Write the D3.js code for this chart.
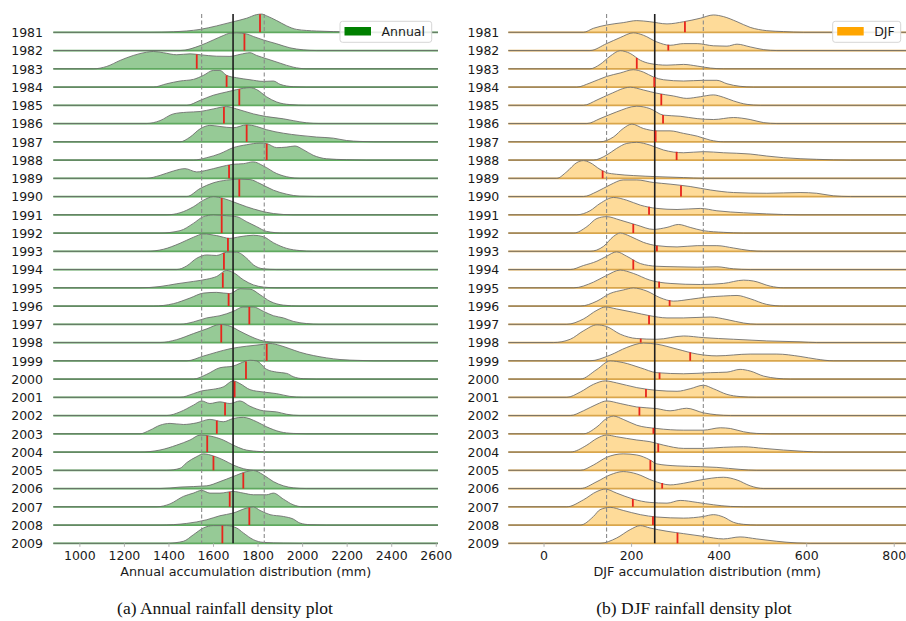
<!DOCTYPE html>
<html>
<head>
<meta charset="utf-8">
<script src="https://cdn.jsdelivr.net/npm/d3@7"></script>
<style>
  body { margin: 0; background: #fff; }
  svg { font-family: "DejaVu Sans", sans-serif; }
</style>
</head>
<body>
<div id="chart"></div>
<script>
// rainfall density ridges, annual (left) and DJF (right)
const years = [1981, 1982, 1983, 1984, 1985, 1986, 1987, 1988, 1989, 1990,
  1991, 1992, 1993, 1994, 1995, 1996, 1997, 1998, 1999, 2000,
  2001, 2002, 2003, 2004, 2005, 2006, 2007, 2008, 2009];

const annualTicks = [1000, 1200, 1400, 1600, 1800, 2000, 2200, 2400, 2600];
const djfTicks = [0, 200, 400, 600, 800];

// [lower dashed, mean, upper dashed]
const annualRef = [1549, 1690, 1830];
const djfRef = [144, 254, 365];

// red marks, one per year
const annualMarks = [1811, 1741, 1527, 1661, 1718, 1649, 1751, 1841, 1672, 1718,
  1639, 1639, 1667, 1649, 1644, 1670, 1763, 1637, 1841, 1748,
  1697, 1654, 1617, 1574, 1602, 1736, 1675, 1763, 1642];
const djfMarks = [323, 285, 213, 253, 269, 273, 256, 304, 135, 314,
  241, 205, 259, 205, 264, 288, 241, 222, 335, 265,
  234, 219, 251, 262, 244, 271, 204, 250, 306];

// density: [mm, relative height]
const annualDensity = [
  [[1317,0],[1422,.03],[1542,.16],[1616,.35],[1691,.58],[1751,.77],[1796,.97],[1818,1],[1841,.9],[1886,.64],[1931,.35],[1975,.16],[2065,.07],[2215,.02],[2290,0]],
  [[1452,0],[1542,.27],[1601,.58],[1646,.82],[1676,.95],[1706,.97],[1751,.91],[1781,.77],[1826,.58],[1886,.37],[1945,.15],[2005,.04],[2065,0]],
  [[1063,0],[1123,.13],[1183,.46],[1242,.73],[1302,.91],[1332,.95],[1377,.88],[1437,.77],[1497,.82],[1542,.77],[1616,.69],[1676,.68],[1721,.79],[1766,.88],[1796,.73],[1841,.55],[1901,.31],[1960,.09],[2020,0]],
  [[1332,0],[1392,.18],[1452,.33],[1512,.42],[1557,.64],[1601,.91],[1631,.91],[1661,.64],[1706,.51],[1766,.4],[1826,.31],[1871,.33],[1901,.15],[1960,.02],[2020,0]],
  [[1482,0],[1542,.27],[1601,.55],[1661,.73],[1706,.86],[1766,.97],[1796,.86],[1841,.46],[1886,.18],[1945,.04],[2020,0]],
  [[1302,0],[1362,.16],[1422,.53],[1482,.62],[1542,.66],[1601,.8],[1661,.93],[1706,.8],[1781,.53],[1841,.38],[1916,.26],[1960,.16],[2020,.04],[2080,0]],
  [[1452,0],[1497,.26],[1542,.71],[1586,.9],[1631,.84],[1691,.77],[1751,.93],[1796,.84],[1841,.66],[1916,.47],[1990,.35],[2065,.26],[2140,.2],[2200,.07],[2260,.02],[2320,0]],
  [[1512,0],[1572,.13],[1631,.35],[1691,.68],[1751,.84],[1811,.93],[1841,.9],[1886,.68],[1931,.71],[1968,.77],[2005,.57],[2050,.26],[2110,.07],[2200,.02],[2290,0]],
  [[1302,0],[1362,.16],[1422,.4],[1474,.53],[1527,.35],[1572,.44],[1631,.62],[1691,.77],[1736,.8],[1781,.9],[1826,.68],[1886,.26],[1945,.05],[1990,0]],
  [[1482,0],[1542,.44],[1601,.75],[1661,.9],[1721,.95],[1766,.93],[1811,.71],[1871,.35],[1931,.13],[1990,.02],[2065,0]],
  [[1392,0],[1452,.11],[1512,.44],[1557,.8],[1601,.99],[1646,.9],[1691,.71],[1751,.44],[1811,.22],[1871,.07],[1960,0]],
  [[1362,0],[1452,.13],[1512,.53],[1557,.9],[1601,.99],[1661,.95],[1706,.9],[1751,.62],[1796,.35],[1841,.09],[1916,0]],
  [[1302,0],[1377,.11],[1452,.44],[1512,.77],[1557,.95],[1616,.86],[1676,.71],[1721,.8],[1781,.88],[1826,.8],[1871,.47],[1931,.16],[1990,.04],[2050,0]],
  [[1437,0],[1482,.2],[1527,.62],[1572,.8],[1616,.77],[1661,.95],[1706,.95],[1751,.62],[1781,.26],[1826,.04],[1886,0]],
  [[1272,0],[1362,.07],[1437,.22],[1512,.35],[1572,.47],[1616,.62],[1661,.95],[1691,.84],[1736,.44],[1781,.16],[1826,.04],[1886,0]],
  [[1332,0],[1422,.13],[1497,.44],[1557,.71],[1616,.75],[1676,.68],[1721,.95],[1766,.93],[1811,.62],[1856,.26],[1916,.05],[1990,0]],
  [[1452,0],[1512,.13],[1572,.35],[1631,.47],[1691,.71],[1736,.95],[1781,.95],[1826,.71],[1871,.47],[1916,.35],[1960,.16],[2020,.04],[2080,0]],
  [[1362,0],[1437,.16],[1512,.49],[1572,.75],[1631,.99],[1676,.9],[1721,.62],[1766,.35],[1811,.13],[1871,.02],[1931,0]],
  [[1482,0],[1557,.26],[1616,.47],[1676,.66],[1751,.8],[1826,.9],[1856,.95],[1901,.84],[1945,.66],[1990,.47],[2050,.29],[2110,.16],[2170,.07],[2260,.02],[2320,0]],
  [[1512,0],[1572,.26],[1631,.62],[1691,.71],[1721,.86],[1766,1.03],[1796,.99],[1841,.53],[1886,.38],[1931,.31],[1960,.13],[2005,.02],[2065,0]],
  [[1452,0],[1512,.2],[1549,.35],[1601,.44],[1646,.57],[1691,.9],[1721,.75],[1766,.42],[1826,.29],[1886,.2],[1945,.05],[2005,0]],
  [[1392,0],[1452,.2],[1512,.57],[1549,.8],[1586,.66],[1631,.75],[1676,.66],[1721,.8],[1766,.51],[1826,.26],[1886,.2],[1931,.07],[1990,0]],
  [[1272,0],[1317,.2],[1362,.47],[1407,.57],[1467,.51],[1527,.6],[1586,.79],[1646,.66],[1691,.84],[1736,.9],[1796,.66],[1841,.38],[1901,.11],[1960,.02],[2020,0]],
  [[1272,0],[1362,.11],[1437,.38],[1497,.66],[1542,.93],[1586,.88],[1646,.66],[1691,.38],[1736,.15],[1796,.04],[1871,0]],
  [[1392,0],[1452,.11],[1482,.42],[1527,.75],[1557,.9],[1601,.79],[1646,.57],[1691,.29],[1736,.09],[1796,0]],
  [[1362,0],[1452,.08],[1572,.15],[1631,.38],[1691,.66],[1751,.93],[1781,.99],[1826,.75],[1871,.38],[1916,.15],[1960,.04],[2020,0]],
  [[1347,0],[1407,.16],[1467,.57],[1512,.75],[1549,.9],[1586,.75],[1631,.75],[1691,.84],[1736,.75],[1781,.66],[1841,.66],[1871,.75],[1916,.42],[1960,.11],[2005,0]],
  [[1362,0],[1482,.09],[1572,.29],[1631,.51],[1691,.66],[1751,.93],[1781,.99],[1811,.8],[1856,.57],[1916,.47],[1960,.33],[1990,.11],[2035,.02],[2110,0]],
  [[1392,0],[1467,.11],[1512,.47],[1557,.84],[1601,.97],[1661,.97],[1706,.84],[1736,.57],[1781,.2],[1826,.05],[1916,.01],[1990,0]]
];

const djfDensity = [
  [[91,0],[114,.22],[144,.4],[182,.53],[213,.64],[243,.58],[282,.46],[320,.58],[358,.77],[388,.95],[411,.86],[442,.58],[472,.27],[510,.09],[548,.04],[594,0]],
  [[106,0],[144,.38],[175,.71],[205,.97],[228,.84],[259,.47],[289,.29],[320,.38],[351,.38],[388,.26],[419,.24],[442,.35],[472,.2],[503,.05],[533,0]],
  [[106,0],[129,.24],[152,.69],[175,.99],[198,.84],[221,.47],[243,.29],[282,.2],[320,.24],[351,.15],[381,.04],[411,0]],
  [[76,0],[106,.22],[144,.58],[175,.77],[205,.95],[228,.82],[251,.55],[274,.4],[320,.33],[365,.37],[396,.37],[419,.18],[449,.04],[480,0]],
  [[91,0],[122,.29],[152,.62],[198,.99],[228,.84],[259,.66],[297,.51],[327,.38],[358,.47],[388,.57],[411,.44],[434,.24],[465,.05],[495,0]],
  [[99,0],[129,.27],[167,.64],[213,.95],[243,.82],[274,.46],[312,.4],[351,.27],[388,.22],[434,.33],[472,.22],[503,.05],[533,0]],
  [[129,0],[160,.27],[182,.73],[202,.97],[228,.73],[259,.6],[289,.6],[320,.46],[351,.31],[381,.09],[411,0]],
  [[114,0],[144,.27],[167,.64],[190,.91],[213,.97],[243,.82],[274,.55],[320,.4],[365,.46],[411,.4],[472,.33],[510,.22],[548,.13],[624,.04],[701,0]],
  [[30,0],[53,.36],[76,.86],[91,.97],[106,.86],[129,.49],[144,.31],[167,.22],[205,.15],[259,.09],[320,.04],[365,0]],
  [[91,0],[122,.27],[152,.64],[182,.91],[213,.91],[251,.77],[289,.68],[335,.55],[381,.36],[434,.22],[510,.18],[586,.22],[624,.18],[662,.04],[701,0]],
  [[76,0],[106,.22],[129,.62],[160,.95],[190,.8],[221,.53],[259,.35],[305,.29],[358,.35],[396,.22],[457,.11],[510,.05],[586,0]],
  [[69,0],[99,.35],[122,.8],[144,.9],[175,.71],[213,.44],[251,.2],[282,.31],[308,.47],[335,.31],[365,.13],[411,.04],[457,0]],
  [[106,0],[137,.27],[160,.82],[175,1],[198,.82],[228,.49],[259,.31],[305,.24],[351,.31],[396,.31],[434,.18],[472,.04],[503,0]],
  [[61,0],[91,.22],[122,.46],[144,.73],[167,.97],[190,.73],[221,.33],[259,.18],[305,.15],[351,.13],[396,.15],[434,.04],[472,0]],
  [[69,0],[114,.31],[144,.68],[175,.97],[205,.79],[243,.42],[289,.24],[358,.18],[411,.24],[457,.42],[480,.37],[518,.09],[548,0]],
  [[84,0],[122,.27],[152,.69],[182,.88],[205,.99],[236,.82],[266,.46],[297,.27],[335,.37],[373,.49],[411,.55],[442,.58],[472,.4],[510,.09],[548,0]],
  [[53,0],[91,.29],[122,.77],[141,.95],[167,.84],[205,.66],[243,.47],[282,.35],[320,.35],[381,.4],[419,.26],[457,.07],[487,0]],
  [[23,0],[61,.18],[91,.64],[122,.97],[144,.88],[175,.46],[213,.22],[259,.18],[320,.36],[365,.27],[434,.18],[510,.09],[586,.04],[624,0]],
  [[106,0],[152,.31],[190,.73],[228,.97],[259,.91],[305,.64],[351,.37],[396,.27],[472,.37],[533,.37],[586,.24],[624,.09],[662,0]],
  [[84,0],[122,.53],[152,.99],[182,.9],[221,.62],[259,.35],[320,.29],[381,.35],[419,.38],[449,.53],[472,.44],[503,.16],[533,.04],[564,0]],
  [[53,0],[84,.29],[114,.71],[141,.9],[167,.79],[213,.53],[259,.38],[305,.33],[335,.47],[365,.66],[388,.47],[419,.16],[449,.04],[487,0]],
  [[61,0],[91,.26],[122,.62],[144,.8],[175,.66],[213,.47],[259,.38],[289,.26],[327,.4],[365,.15],[396,.04],[427,0]],
  [[91,0],[122,.38],[144,.84],[160,.97],[182,.79],[213,.47],[259,.29],[320,.2],[365,.2],[404,.33],[427,.29],[457,.11],[487,.02],[518,0]],
  [[61,0],[99,.38],[122,.75],[144,.93],[167,.84],[213,.66],[243,.57],[274,.38],[320,.2],[365,.2],[411,.26],[457,.29],[503,.2],[548,.11],[594,.04],[640,0]],
  [[84,0],[114,.29],[144,.71],[182,.9],[213,.84],[243,.57],[259,.35],[305,.24],[358,.2],[396,.16],[449,.05],[487,0]],
  [[84,0],[122,.38],[152,.75],[182,.93],[213,.8],[251,.42],[289,.2],[320,.29],[358,.47],[411,.62],[442,.47],[472,.15],[503,0]],
  [[53,0],[91,.38],[122,.84],[141,.97],[167,.75],[205,.42],[243,.24],[282,.2],[312,.35],[351,.24],[388,.11],[427,.02],[457,0]],
  [[84,0],[114,.47],[129,.84],[152,.97],[182,.8],[221,.57],[259,.44],[320,.38],[365,.47],[388,.57],[411,.44],[434,.15],[457,.04],[487,0]],
  [[129,0],[167,.29],[198,.75],[221,.97],[243,.84],[282,.66],[320,.53],[365,.38],[411,.24],[449,.35],[487,.24],[533,.11],[579,.02],[609,0]]
];

const W = 906, H = 621;
const firstRow = 32.3, lastRow = 543.3, rowH = 18.25;

const svg = d3.select("#chart")
  .append("svg")
  .attr("width", W)
  .attr("height", H);

const rowY = d3.scalePoint().domain(years).range([firstRow, lastRow]);
const hY = d3.scaleLinear().domain([0, 1]).range([0, -rowH]);

// height of a curve at value v (straight line between read points)
function heightAt(pts, v) {
  for (let k = 1; k < pts.length; k++) {
    if (v <= pts[k][0]) {
      const a = pts[k - 1], b = pts[k];
      const t = (v - a[0]) / (b[0] - a[0]);
      return a[1] + t * (b[1] - a[1]);
    }
  }
  return 0;
}

function drawPanel(p) {
  const x = d3.scaleLinear().domain(p.domain).range(p.range);
  const g = svg.append("g");

  const area = d3.area()
    .x(d => x(d[0]))
    .y0(0)
    .y1(d => hY(d[1]))
    .curve(d3.curveMonotoneX);
  const line = area.lineY1();

  years.forEach((yr, i) => {
    const pts = [[p.domain[0], 0], ...p.curves[i], [p.domain[1], 0]];
    const row = g.append("g").attr("transform", "translate(0," + rowY(yr) + ")");
    row.append("path")
      .attr("d", area(pts))
      .attr("fill", p.fill);
    row.append("line")
      .attr("x1", p.range[0]).attr("x2", p.range[1])
      .attr("y1", 0).attr("y2", 0)
      .attr("stroke", p.base)
      .attr("stroke-width", 1.7);
    row.append("path")
      .attr("d", line(pts))
      .attr("fill", "none")
      .attr("stroke", "#6a6a6a")
      .attr("stroke-opacity", 0.85)
      .attr("stroke-width", 1);
    row.append("text")
      .attr("x", p.labelX)
      .attr("y", 4.7)
      .attr("text-anchor", "end")
      .style("font-size", "12.5px")
      .style("fill", "#1a1a1a")
      .text(yr);
  });

  // mean and +/- std lines
  p.ref.forEach((v, k) => {
    g.append("line")
      .attr("x1", x(v)).attr("x2", x(v))
      .attr("y1", 14).attr("y2", lastRow)
      .attr("stroke", k === 1 ? "#1e1e1e" : "#8a8a8a")
      .attr("stroke-width", k === 1 ? 1.6 : 1.1)
      .attr("stroke-dasharray", k === 1 ? null : "4,2.5");
  });

  // red marks from baseline up to the curve
  years.forEach((yr, i) => {
    const m = p.marks[i];
    const pts = [[p.domain[0], 0], ...p.curves[i], [p.domain[1], 0]];
    g.append("line")
      .attr("x1", x(m)).attr("x2", x(m))
      .attr("y1", rowY(yr))
      .attr("y2", rowY(yr) + hY(heightAt(pts, m)))
      .attr("stroke", "#e8241c")
      .attr("stroke-width", 1.8);
  });

  const axis = d3.axisBottom(x)
    .tickValues(p.ticks)
    .tickSize(3.5)
    .tickPadding(4.3)
    .tickFormat(d3.format("d"));
  const ax = svg.append("g")
    .attr("transform", "translate(0," + lastRow + ")")
    .call(axis);
  ax.select(".domain").remove();
  ax.selectAll(".tick line").attr("stroke", "#b0b0b0");
  ax.selectAll(".tick text")
    .style("font-size", "12.5px")
    .style("font-family", "DejaVu Sans, sans-serif")
    .style("fill", "#1a1a1a");

  svg.append("text")
    .attr("x", (p.range[0] + p.range[1]) / 2)
    .attr("y", 576)
    .attr("text-anchor", "middle")
    .style("font-size", "12.8px")
    .style("fill", "#1a1a1a")
    .text(p.title);

  // legend
  const lg = svg.append("g");
  lg.append("rect")
    .attr("x", p.legend[0]).attr("y", 21.3)
    .attr("width", p.legend[1]).attr("height", 21)
    .attr("rx", 2.5)
    .attr("fill", "#fff").attr("fill-opacity", 0.85)
    .attr("stroke", "#d6d6d6");
  lg.append("rect")
    .attr("x", p.legend[0] + 4.5).attr("y", 27)
    .attr("width", 26.5).attr("height", 8.5)
    .attr("fill", p.swatch);
  lg.append("text")
    .attr("x", p.legend[0] + 41.5).attr("y", 35.8)
    .style("font-size", "12.5px")
    .style("fill", "#1a1a1a")
    .text(p.name);

  svg.append("text")
    .attr("x", p.captionX)
    .attr("y", 614)
    .attr("text-anchor", "middle")
    .style("font-family", "Liberation Serif, serif")
    .style("font-size", "17.5px")
    .style("fill", "#111")
    .text(p.caption);
}

drawPanel({
  domain: [883, 2610], range: [53.3, 438],
  curves: annualDensity, marks: annualMarks, ref: annualRef, ticks: annualTicks,
  fill: "#96ca96", base: "#5fa95f", swatch: "#008000",
  labelX: 43, legend: [340, 91.7], name: "Annual",
  title: "Annual accumulation distribution (mm)",
  caption: "(a) Annual rainfall density plot", captionX: 225
});

drawPanel({
  domain: [-80.5, 828], range: [508.3, 906],
  curves: djfDensity, marks: djfMarks, ref: djfRef, ticks: djfTicks,
  fill: "#fedb99", base: "#d9a64c", swatch: "#ffa500",
  labelX: 499.3, legend: [832.7, 68], name: "DJF",
  title: "DJF accumulation distribution (mm)",
  caption: "(b) DJF rainfall density plot", captionX: 694
});
</script>
</body>
</html>
